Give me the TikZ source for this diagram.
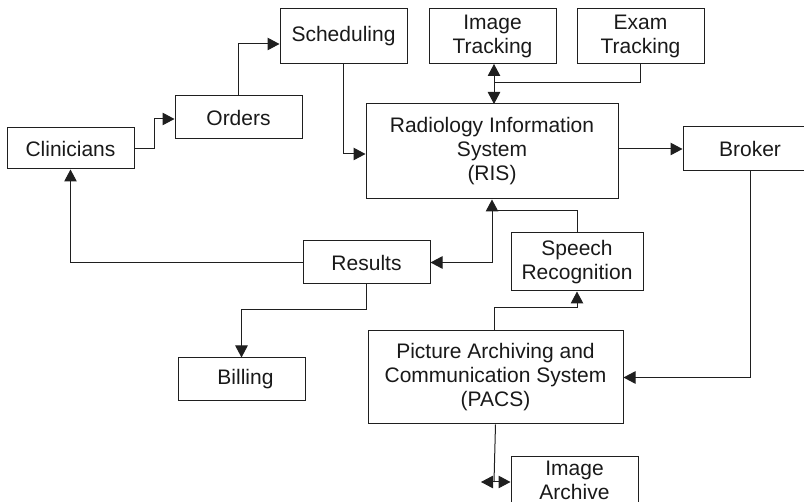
\documentclass[tikz,border=0pt]{standalone}
\usepackage{fontspec}
\setmainfont{Liberation Sans}
\usetikzlibrary{arrows.meta}
\begin{document}
\begin{tikzpicture}[x=1pt,y=-1pt,
  box/.style={draw=black!88,line width=1pt,rectangle,inner sep=0pt,align=center,
    font=\fontsize{21}{24}\selectfont,text=black!90},
  conn/.style={draw=black!88,line width=1pt},
  tip/.style={-{Triangle[length=12pt,width=12.5pt]}},
  tips/.style={{Triangle[length=12pt,width=12.5pt]}-{Triangle[length=12pt,width=12.5pt]}}]
\useasboundingbox (0,0) rectangle (804,502);
\clip (0,0) rectangle (804,502);
\node[box,minimum width=127pt,minimum height=41pt] (clin) at (70.5,148.5) {Clinicians};
\node[box,minimum width=127pt,minimum height=43pt] (orders) at (238.5,117.5) {Orders};
\node[box,minimum width=127pt,minimum height=55pt] (sched) at (343.5,36.5) {Scheduling};
\node[box,minimum width=127pt,minimum height=55pt] (imgtr) at (492.5,36.5) {Image\\Tracking};
\node[box,minimum width=127pt,minimum height=55pt] (examtr) at (640.5,36.5) {Exam\\Tracking};
\node[box,minimum width=252pt,minimum height=95pt] (ris) at (492,151.5) {Radiology Information\\System\\(RIS)};
\node[box,minimum width=134pt,minimum height=44pt] (broker) at (750,149) {Broker};
\node[box,minimum width=127pt,minimum height=43pt] (results) at (366.5,262.5) {Results};
\node[box,minimum width=132pt,minimum height=58pt] (speech) at (577,262) {Speech\\Recognition};
\node[box,minimum width=255pt,minimum height=93pt] (pacs) at (495.5,377.5) {Picture Archiving and\\Communication System\\(PACS)};
\node[box,minimum width=127pt,minimum height=43pt] (billing) at (241.5,379.5) {\hspace*{8pt}Billing};
\node[box,minimum width=127pt,minimum height=46pt] (archive) at (574.5,480) {Image\\Archive};
\coordinate (j1) at (494,83);
\coordinate (j2) at (492,211);
% connectors
\draw[conn,tip] (clin.east) -- ++(20,0) |- ([yshift=-1.5pt]orders.west);
\draw[conn,tip] (orders.north) |- ([yshift=-7.5pt]sched.west);
\draw[conn,tip] (sched.south) |- ([yshift=-2.5pt]ris.west);
\draw[conn,tips] (494,64) -- (494,104);
\draw[conn] (examtr.south) |- (j1);
\draw[conn,tip] (ris.east |- broker.west) -- (broker.west);
\draw[conn,tip] (broker.south) |- (pacs.east);
\draw[conn,tips] (ris.south) |- (results.east);
\draw[conn] (speech.north) |- (j2);
\draw[conn,tip] (494,331) -- (494,308) -| (speech.south);
\draw[conn,tip] (results.west) -| (clin.south);
\draw[conn,tip] (results.south) -- ++(0,25) -| (billing.north);
\draw[conn] (pacs.south) -- (494,482);
\draw[conn,tips] (481,482) -- (archive.west |- 0,482);
\end{tikzpicture}
\end{document}
